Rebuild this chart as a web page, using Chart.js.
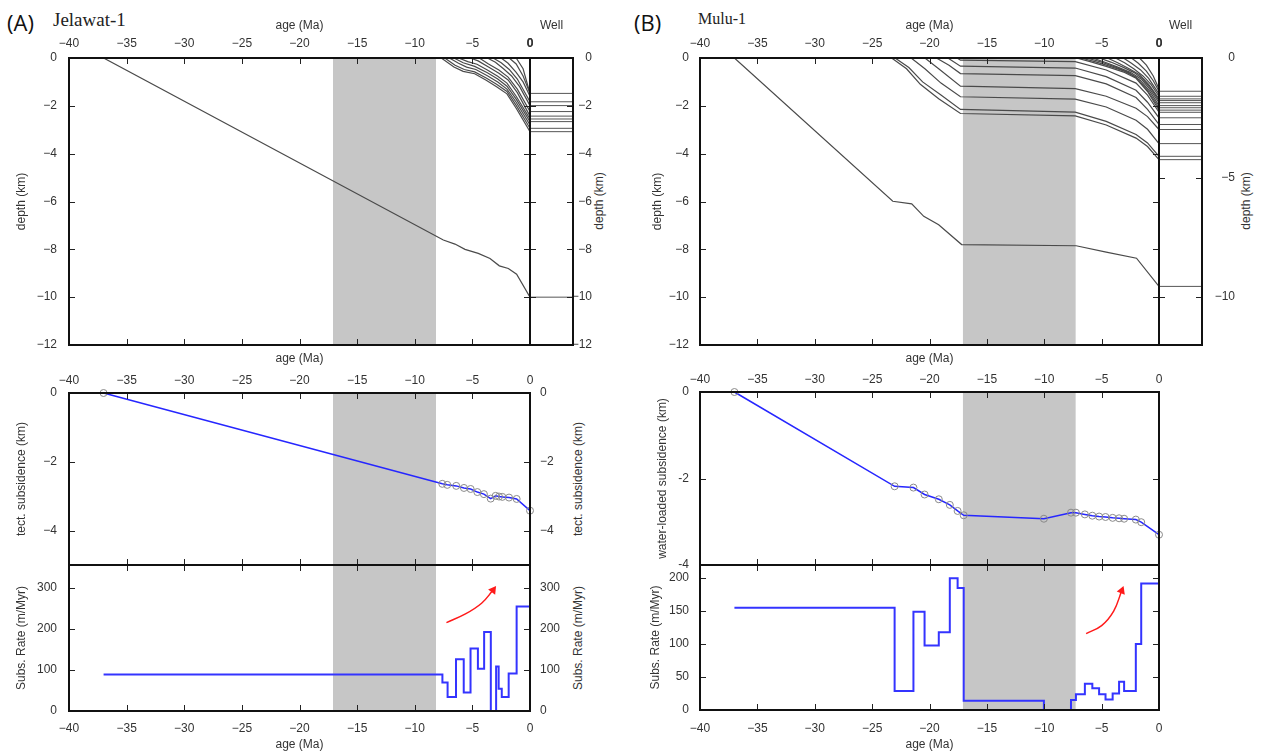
<!DOCTYPE html>
<html><head><meta charset="utf-8">
<script src="https://cdn.jsdelivr.net/npm/chart.js@4/dist/chart.umd.min.js"></script>
<style>
body{margin:0;background:#fff;width:1261px;height:755px;overflow:hidden;position:relative;}
canvas{position:absolute;left:0;top:0;}
.t{position:absolute;white-space:nowrap;line-height:1;}
.r{transform:translate(-50%,-50%) rotate(-90deg);font:12px 'Liberation Sans',Arial,sans-serif;color:#333;}
</style></head><body>
<div class="t" style="left:7px;top:7px;font:22px 'Open Sans',sans-serif;color:#111">(A)</div>
<div class="t" style="left:53px;top:9px;font:19px 'Liberation Serif',serif;color:#222">Jelawat-1</div>
<div class="t" style="left:634px;top:7px;font:22px 'Open Sans',sans-serif;color:#111">(B)</div>
<div class="t" style="left:698px;top:10px;font:16px 'Liberation Serif',serif;color:#222">Mulu-1</div>
<div class="t r" style="left:599px;top:201px">depth (km)</div>
<div class="t r" style="left:578px;top:479px">tect. subsidence (km)</div>
<div class="t r" style="left:578px;top:638px">Subs. Rate (m/Myr)</div>
<div class="t r" style="left:1246px;top:201px">depth (km)</div>
<script>
// ---------------- DATA ----------------
const ageTicks = [-40, -35, -30, -25, -20, -15, -10, -5, 0];
const depthTicks = [0, -2, -4, -6, -8, -10, -12];
const wellDepthTicksB = [0, -5, -10];
const tsTicksA = [0, -2, -4];
const rateTicksA = [0, 100, 200, 300];
const wlTicksB = [0, -2, -4];
const rateTicksB = [0, 50, 100, 150, 200];
const wellXTicks = [0];

const greyA = [-17.1, -8.15];
const greyB = [-17.1, -7.25];

// Jelawat-1 burial history
const deepA = [[-37, 0], [-7.52, -7.61], [-6.51, -7.78], [-5.64, -8.0], [-4.49, -8.17], [-3.47, -8.38], [-2.66, -8.69], [-1.88, -8.8], [-1.16, -9.04], [0, -10.0]];
const horizonsA = [
  [[-7.7, 0], [-6.6, -0.38], [-5.8, -0.56], [-4.8, -0.66], [-3.8, -0.93], [-2.9, -1.2], [-2.0, -1.5], [-1.2, -2.1], [0, -3.08]],
  [[-7.4, 0], [-6.5, -0.3], [-5.7, -0.48], [-4.8, -0.58], [-3.8, -0.84], [-2.9, -1.1], [-2.0, -1.4], [-1.2, -1.98], [0, -2.94]],
  [[-7.0, 0], [-6.2, -0.22], [-5.5, -0.38], [-4.7, -0.48], [-3.7, -0.74], [-2.8, -1.0], [-2.0, -1.3], [-1.2, -1.85], [0, -2.8]],
  [[-6.6, 0], [-5.8, -0.2], [-4.8, -0.35], [-3.7, -0.62], [-2.8, -0.88], [-2.0, -1.18], [-1.2, -1.72], [0, -2.66]],
  [[-6.2, 0], [-5.4, -0.15], [-4.6, -0.26], [-3.7, -0.5], [-2.8, -0.76], [-2.0, -1.05], [-1.2, -1.6], [0, -2.55]],
  [[-5.2, 0], [-4.5, -0.12], [-3.6, -0.38], [-2.7, -0.64], [-1.9, -0.92], [-1.1, -1.45], [0, -2.43]],
  [[-4.4, 0], [-3.6, -0.25], [-2.7, -0.5], [-1.9, -0.8], [-1.1, -1.3], [0, -2.24]],
  [[-3.7, 0], [-3.0, -0.18], [-2.3, -0.45], [-1.6, -0.75], [-0.9, -1.2], [0, -1.99]],
  [[-3.2, 0], [-2.5, -0.2], [-1.8, -0.48], [-1.1, -0.88], [0, -1.83]],
  [[-2.5, 0], [-1.9, -0.22], [-1.2, -0.6], [-0.6, -1.0], [0, -1.6]],
  [[-1.8, 0], [-1.2, -0.25], [-0.6, -0.75], [0, -1.48]],
  [[-1.2, 0], [-0.6, -0.45], [0, -1.48]]
];
const wellA = [-1.48, -1.83, -1.99, -2.24, -2.43, -2.55, -2.66, -2.94, -3.08, -10.0];

// Jelawat-1 tectonic subsidence
const tsAgeA = [-37.0, -7.61, -7.18, -6.40, -5.73, -5.15, -4.57, -4.0, -3.41, -2.98, -2.69, -2.40, -1.82, -1.16, 0];
const tsA = [0, -2.64, -2.67, -2.70, -2.76, -2.79, -2.88, -2.94, -3.07, -2.99, -3.01, -3.02, -3.04, -3.08, -3.42];

// Jelawat-1 subsidence rate (value holds from each age to the next)
const rateAgeA = [-37.0, -7.6, -7.15, -6.42, -5.75, -5.16, -4.52, -3.98, -3.4, -2.94, -2.72, -2.45, -1.85, -1.16];
const rateA = [89, 69, 34, 126, 45, 152, 103, 192, 0, 108, 54, 34, 91, 254];
const arrowAgeA = [-7.25, -5.6, -4.2, -3.2];
const arrowRateA = [215, 236, 262, 294];

// Mulu-1 burial history
const deepB = [[-37, 0], [-23.2, -5.99], [-21.55, -6.1], [-20.5, -6.62], [-19.2, -6.97], [-17.2, -7.8], [-7.22, -7.85], [-4.6, -8.12], [-1.96, -8.37], [0, -9.55]];
const horizonsB = [
  [[-23.3, 0], [-22.0, -0.45], [-20.8, -1.1], [-19.2, -1.7], [-17.3, -2.32], [-7.3, -2.42], [-4.6, -2.8], [-2.0, -3.35], [-1.0, -3.7], [0, -4.25]],
  [[-23.0, 0], [-21.8, -0.4], [-20.6, -1.0], [-19.0, -1.55], [-17.3, -2.15], [-7.3, -2.26], [-4.6, -2.65], [-2.0, -3.2], [-1.0, -3.55], [0, -4.11]],
  [[-21.6, 0], [-20.4, -0.45], [-19.0, -1.05], [-17.3, -1.62], [-7.3, -1.72], [-4.6, -2.05], [-2.0, -2.6], [-1.0, -2.98], [0, -3.58]],
  [[-20.4, 0], [-19.2, -0.45], [-17.3, -1.18], [-7.3, -1.28], [-4.6, -1.6], [-2.0, -2.1], [-1.0, -2.45], [0, -2.99]],
  [[-19.4, 0], [-18.3, -0.3], [-17.3, -0.65], [-7.3, -0.74], [-4.6, -1.08], [-2.0, -1.65], [-1.0, -2.15], [0, -2.78]],
  [[-18.4, 0], [-17.3, -0.34], [-7.3, -0.42], [-4.6, -0.78], [-2.0, -1.35], [-1.0, -1.85], [0, -2.5]],
  [[-17.6, 0], [-17.3, -0.09], [-7.3, -0.15], [-4.6, -0.5], [-2.0, -1.05], [-1.0, -1.55], [0, -2.27]],
  [[-7.2, 0], [-6.0, -0.15], [-4.6, -0.35], [-3.0, -0.6], [-2.0, -0.85], [-1.0, -1.4], [0, -2.18]],
  [[-6.8, 0], [-5.6, -0.15], [-4.6, -0.3], [-3.0, -0.55], [-2.0, -0.8], [-1.0, -1.35], [0, -2.08]],
  [[-6.3, 0], [-5.0, -0.17], [-3.8, -0.38], [-2.6, -0.62], [-1.6, -0.95], [-0.8, -1.4], [0, -1.99]],
  [[-5.8, 0], [-4.7, -0.18], [-3.6, -0.38], [-2.5, -0.6], [-1.5, -0.9], [-0.8, -1.3], [0, -1.87]],
  [[-5.2, 0], [-4.2, -0.17], [-3.2, -0.37], [-2.2, -0.6], [-1.4, -0.88], [-0.7, -1.28], [0, -1.78]],
  [[-4.5, 0], [-3.6, -0.2], [-2.6, -0.45], [-1.7, -0.7], [-0.9, -1.1], [0, -1.71]],
  [[-3.8, 0], [-3.0, -0.2], [-2.2, -0.45], [-1.4, -0.75], [-0.7, -1.1], [0, -1.6]],
  [[-3.1, 0], [-2.4, -0.22], [-1.6, -0.5], [-0.9, -0.85], [0, -1.5]],
  [[-2.4, 0], [-1.8, -0.22], [-1.1, -0.55], [-0.5, -0.95], [0, -1.39]],
  [[-1.7, 0], [-1.1, -0.3], [-0.5, -0.75], [0, -1.3]]
];
const wellB = [-1.39, -1.6, -1.71, -1.78, -1.87, -1.99, -2.08, -2.18, -2.27, -2.5, -2.78, -2.99, -3.58, -4.11, -4.25, -9.55];

// Mulu-1 water-loaded subsidence
const wlAgeB = [-37.0, -23.04, -21.4, -20.43, -19.19, -18.23, -17.55, -17.02, -10.03, -7.67, -7.24, -6.46, -5.81, -5.22, -4.66, -4.04, -3.48, -3.04, -2.02, -1.55, 0];
const wlB = [0, -2.18, -2.21, -2.37, -2.48, -2.61, -2.75, -2.85, -2.93, -2.79, -2.79, -2.83, -2.86, -2.88, -2.89, -2.91, -2.92, -2.93, -2.95, -3.01, -3.30];

// Mulu-1 subsidence rate
const rateAgeB = [-37.0, -23.04, -21.4, -20.43, -19.19, -18.23, -17.55, -17.02, -10.03, -7.67, -7.24, -6.46, -5.81, -5.22, -4.66, -4.04, -3.48, -3.04, -2.02, -1.55];
const rateB = [155, 29, 149, 98, 118, 200, 185, 14, 0, 15, 24, 40, 33, 24, 16, 25, 43, 29, 100, 192];
const arrowAgeB = [-6.35, -5.0, -3.95, -3.25];
const arrowRateB = [116, 128, 150, 181];

// ---------------- DRAWING ----------------
const W = 1261, H = 755;
const FONT = {family: "'Liberation Sans', Arial, sans-serif", size: 12};
const TXT = '#333';
const RATE_MAX_A = 355, RATE_MAX_B = 220;

const frame = {
  id: 'frame',
  afterDatasetsDraw(chart) {
    const {ctx, chartArea: a, scales} = chart;
    ctx.save();
    ctx.strokeStyle = '#222';
    ctx.lineWidth = 1;
    const len = 6;
    Object.values(scales).forEach(s => {
      s.ticks.forEach(t => {
        const p = Math.round(s.getPixelForValue(t.value)) + 0.5;
        ctx.beginPath();
        if (s.isHorizontal()) {
          ctx.moveTo(p, a.top); ctx.lineTo(p, a.top + len);
          ctx.moveTo(p, a.bottom); ctx.lineTo(p, a.bottom - len);
        } else {
          ctx.moveTo(a.left, p); ctx.lineTo(a.left + len, p);
          ctx.moveTo(a.right, p); ctx.lineTo(a.right - len, p);
        }
        ctx.stroke();
      });
    });
    ctx.lineWidth = 2;
    ctx.strokeStyle = '#111';
    ctx.strokeRect(Math.round(a.left), Math.round(a.top), Math.round(a.right) - Math.round(a.left), Math.round(a.bottom) - Math.round(a.top));
    ctx.restore();
  }
};

const uni = v => String(v).replace('-', '\u2212');
const hyph = v => String(v);

function axis(o) {
  const horiz = o.pos === 'top' || o.pos === 'bottom';
  return {
    type: 'linear', position: o.pos, min: o.min, max: o.max,
    grid: {display: false, drawTicks: false, tickLength: 0}, border: {display: false},
    afterBuildTicks: s => { s.ticks = o.ticks.map(v => ({value: v})); },
    afterFit: s => { if (horiz) s.height = o.size; else s.width = o.size; },
    ticks: {
      padding: o.pad, autoSkip: false, maxRotation: 0, minRotation: 0,
      crossAlign: o.align || 'near', color: TXT,
      font: o.bold ? Object.assign({}, FONT, {weight: 'bold'}) : FONT,
      callback: o.fmt || uni
    },
    title: o.title ? {display: true, text: o.title, color: TXT, font: FONT, padding: {top: 2, bottom: 2}} : {display: false}
  };
}

function build(rect, axes, datasets) {
  const pad = {left: rect[0], top: rect[1], right: W - rect[2], bottom: H - rect[3]};
  const scales = {};
  Object.entries(axes).forEach(([k, o]) => {
    scales[k] = axis(o);
    pad[o.pos] -= o.size;
  });
  const cv = document.createElement('canvas');
  cv.width = W; cv.height = H;
  document.body.appendChild(cv);
  return new Chart(cv, {
    type: 'line',
    data: {datasets},
    options: {
      responsive: false, animation: false, devicePixelRatio: 1, events: [],
      layout: {padding: pad},
      plugins: {legend: {display: false}, tooltip: {enabled: false}},
      scales
    },
    plugins: [frame]
  });
}

const toPts = arr => arr.map(p => ({x: p[0], y: p[1]}));
const pts = (xs, ys) => xs.map((x, i) => ({x, y: ys[i]}));
const line = (data, color, width) => ({data, borderColor: color, borderWidth: width, pointRadius: 0, fill: false, tension: 0});
const band = (edges, top) => ({data: [{x: edges[0], y: top}, {x: edges[1], y: top}], borderWidth: 0, borderColor: 'rgba(0,0,0,0)', backgroundColor: '#c6c6c6', fill: 'start', pointRadius: 0, order: 10});
const wellPts = depths => depths.flatMap(d => [{x: 0, y: d}, {x: 2, y: d}, {x: 1, y: null}]);
const stepPts = (ages, rates) => pts(ages, rates).concat([{x: 0, y: rates[rates.length - 1]}]);
const subsDs = (xs, ys) => ({data: pts(xs, ys), borderColor: '#2626ff', borderWidth: 1.5, tension: 0, fill: false,
  pointRadius: 3.5, pointStyle: 'circle', pointBorderColor: '#8a8a8a', pointBackgroundColor: 'rgba(255,255,255,0)', pointBorderWidth: 1, clip: false});
const stepDs = (xs, ys) => ({data: stepPts(xs, ys), borderColor: '#3434ff', borderWidth: 2, stepped: 'before', pointRadius: 0, fill: false});
const arrowDs = (xs, ys, rot) => ({data: pts(xs, ys), borderColor: '#ff1a1a', borderWidth: 1.5, tension: 0.4, fill: false,
  pointRadius: [0, 0, 0, 5], pointStyle: 'triangle', rotation: rot, pointBackgroundColor: '#ff1a1a', pointBorderColor: '#ff1a1a', pointBorderWidth: 0});
const DEPTH_C = '#4a4a4a';

// ---- Panel A ----
build([69, 58, 530, 345], {
  x: {pos: 'top', min: -40, max: 0, ticks: ageTicks, pad: 7, title: 'age (Ma)', size: 41.2},
  y: {pos: 'left', min: -12, max: 0, ticks: depthTicks, pad: 12, title: 'depth (km)', size: 56.2}
}, [band(greyA, 0), line(toPts(deepA), DEPTH_C, 1.2)].concat(horizonsA.map(h => line(toPts(h), DEPTH_C, 1.2))));

build([530, 58, 573, 345], {
  x: {pos: 'top', min: 0, max: 2, ticks: wellXTicks, pad: 7, title: 'Well', size: 41.2, bold: true},
  y: {pos: 'right', min: -12, max: 0, ticks: depthTicks, pad: 3, size: 19, align: 'far'}
}, [line(wellPts(wellA), '#555', 1)]);

build([69, 393, 530, 565], {
  x: {pos: 'top', min: -40, max: 0, ticks: ageTicks, pad: 5, title: 'age (Ma)', size: 43.2},
  y: {pos: 'left', min: -5, max: 0, ticks: tsTicksA, pad: 12, title: 'tect. subsidence (km)', size: 56.2},
  y2: {pos: 'right', min: -5, max: 0, ticks: tsTicksA, pad: 10, size: 40}
}, [band(greyA, 0), subsDs(tsAgeA, tsA)]);

build([69, 565, 530, 711], {
  x: {pos: 'bottom', min: -40, max: 0, ticks: ageTicks, pad: 10, title: 'age (Ma)', size: 43.2},
  y: {pos: 'left', min: 0, max: RATE_MAX_A, ticks: rateTicksA, pad: 12, title: 'Subs. Rate (m/Myr)', size: 56.2},
  y2: {pos: 'right', min: 0, max: RATE_MAX_A, ticks: rateTicksA, pad: 10, size: 40}
}, [band(greyA, RATE_MAX_A), stepDs(rateAgeA, rateA), arrowDs(arrowAgeA, arrowRateA, 36)]);

// ---- Panel B ----
build([700, 58, 1159, 345], {
  x: {pos: 'top', min: -40, max: 0, ticks: ageTicks, pad: 7, title: 'age (Ma)', size: 41.2},
  y: {pos: 'left', min: -12, max: 0, ticks: depthTicks, pad: 11, title: 'depth (km)', size: 51.2}
}, [band(greyB, 0), line(toPts(deepB), DEPTH_C, 1.2)].concat(horizonsB.map(h => line(toPts(h), DEPTH_C, 1.2))));

build([1159, 58, 1202, 345], {
  x: {pos: 'top', min: 0, max: 2, ticks: wellXTicks, pad: 7, title: 'Well', size: 41.2, bold: true},
  y: {pos: 'right', min: -12, max: 0, ticks: wellDepthTicksB, pad: 12, size: 33, align: 'far'}
}, [line(wellPts(wellB), '#555', 1)]);

build([700, 392, 1159, 565], {
  x: {pos: 'top', min: -40, max: 0, ticks: ageTicks, pad: 5, title: 'age (Ma)', size: 42.2},
  y: {pos: 'left', min: -4, max: 0, ticks: wlTicksB, pad: 11, title: 'water-loaded subsidence (km)', size: 46.2, fmt: hyph}
}, [band(greyB, 0), subsDs(wlAgeB, wlB)]);

build([700, 565, 1159, 710], {
  x: {pos: 'bottom', min: -40, max: 0, ticks: ageTicks, pad: 11, title: 'age (Ma)', size: 44.2},
  y: {pos: 'left', min: 0, max: RATE_MAX_B, ticks: rateTicksB, pad: 11, title: 'Subs. Rate (m/Myr)', size: 53.2}
}, [band(greyB, RATE_MAX_B), stepDs(rateAgeB, rateB), arrowDs(arrowAgeB, arrowRateB, 22)]);
</script>
</body></html>
